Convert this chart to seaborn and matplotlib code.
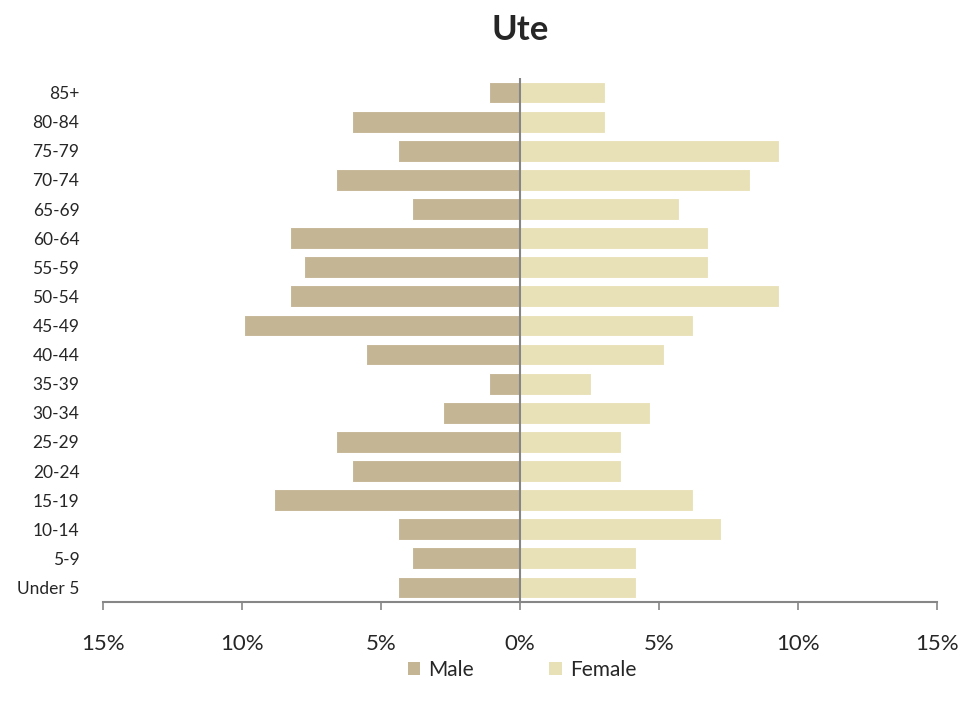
import matplotlib
matplotlib.use("Agg")
import matplotlib.pyplot as plt
import seaborn as sns
import pandas as pd
from matplotlib.patches import Patch
from matplotlib.ticker import FuncFormatter

age_groups = ["85+", "80-84", "75-79", "70-74", "65-69", "60-64", "55-59", "50-54",
              "45-49", "40-44", "35-39", "30-34", "25-29", "20-24", "15-19", "10-14",
              "5-9", "Under 5"]
male = [1.11, 6.04, 4.39, 6.62, 3.88, 8.27, 7.77, 8.27, 9.93, 5.54, 1.11, 2.77,
        6.62, 6.04, 8.85, 4.39, 3.88, 4.39]
female = [3.06, 3.06, 9.32, 8.27, 5.72, 6.76, 6.76, 9.32, 6.22, 5.18, 2.55, 4.68,
          3.63, 3.63, 6.22, 7.23, 4.17, 4.17]
x_ticks = [-15, -10, -5, 0, 5, 10, 15]

male_color = "#C4B594"
female_color = "#E8E1B8"

df = pd.DataFrame({
    "age": age_groups * 2,
    "value": [-v for v in male] + female,
    "sex": ["Male"] * len(male) + ["Female"] * len(female),
})

sns.set_theme(style="white")
plt.rcParams["font.family"] = ["Lato", "DejaVu Sans"]

fig = plt.figure(figsize=(9.79, 7.13), dpi=100)
ax = fig.add_axes([103 / 979, 1 - 602 / 713, (937 - 103) / 979, (602 - 78) / 713])

sns.barplot(data=df, y="age", x="value", hue="sex", order=age_groups,
            hue_order=["Male", "Female"], palette=[male_color, female_color],
            saturation=1, dodge=False, width=0.75, orient="h", edgecolor="white",
            linewidth=0.8, legend=False, ax=ax)

ax.set_xlim(-15, 15)
ax.set_ylim(len(age_groups) - 0.5, -0.5)
ax.axvline(0, color="#868686", lw=1.5, zorder=5)
ax.set_xticks(x_ticks)
ax.xaxis.set_major_formatter(FuncFormatter(lambda v, p: f"{abs(int(round(v)))}%"))
ax.tick_params(axis="x", direction="out", length=6, width=1.2, color="#868686",
               pad=17, labelsize=16, bottom=True)
ax.tick_params(axis="y", length=0, pad=17, labelsize=12.5)
for s in ["top", "right", "left"]:
    ax.spines[s].set_visible(False)
ax.spines["bottom"].set_color("#868686")
ax.spines["bottom"].set_linewidth(1.5)
ax.set_xlabel("")
ax.set_ylabel("")

fig.suptitle("Ute", x=520 / 979, y=1 - 30 / 713, fontsize=25, fontweight="bold",
             va="center")

handles = [Patch(facecolor=male_color, edgecolor="none", label="Male"),
           Patch(facecolor=female_color, edgecolor="none", label="Female")]
fig.legend(handles=handles, loc="center", bbox_to_anchor=(522 / 979, 1 - 670 / 713),
           ncol=2, frameon=False, fontsize=15, handlelength=0.6, handleheight=0.6,
           handletextpad=0.4, columnspacing=3.6)

fig.savefig("out.png", dpi=100)
